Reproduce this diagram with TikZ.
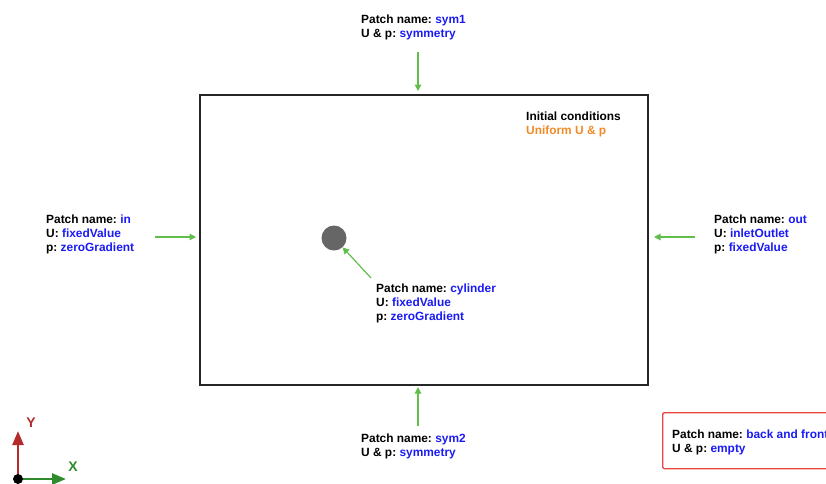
\documentclass[tikz,border=0pt]{standalone}
\usepackage{fontspec}
\setmainfont{Liberation Sans}
\usetikzlibrary{arrows.meta}
\definecolor{lblblue}{HTML}{1A1AF5}
\definecolor{lblorange}{HTML}{F08A24}
\definecolor{arrgreen}{HTML}{62BE4A}
\definecolor{boxred}{HTML}{E84545}
\definecolor{axred}{HTML}{B52A2A}
\definecolor{axgreen}{HTML}{2E8B2E}
\newcommand{\bl}[1]{\textcolor{lblblue}{#1}}
\frenchspacing
\begin{document}
\begin{tikzpicture}[x=1pt,y=-1pt,
  lbl/.style={anchor=north west,inner sep=0pt,align=left,font=\fontsize{11.9}{14}\selectfont\bfseries\frenchspacing},
  garrow/.style={draw=arrgreen,line width=1.2pt,-{Triangle[length=6.5pt,width=6.5pt]}},
  axarrow/.style={line width=2.6pt,-{Triangle[length=14pt,width=11pt]}}]
\useasboundingbox (0,0) rectangle (826,483);
\clip (0,0) rectangle (826,483);
% domain
\node[draw=black!85,line width=1.8pt,minimum width=448pt,minimum height=290pt,inner sep=0pt,anchor=north west] (dom) at (199,94) {};
% cylinder
\node[circle,fill=black!60,minimum size=25pt,inner sep=0pt] (cyl) at (334,238) {};
% labels
\node[lbl] (sym1) at (361,15) {Patch name: \bl{sym1}\\U \& p: \bl{symmetry}};
\node[lbl] (init) at (526,112) {Initial conditions\\\textcolor{lblorange}{Uniform U \& p}};
\node[lbl] (in) at (46,215) {Patch name: \bl{in}\\U: \bl{fixedValue}\\p: \bl{zeroGradient}};
\node[lbl] (out) at (714,215) {Patch name: \bl{out}\\U: \bl{inletOutlet}\\p: \bl{fixedValue}};
\node[lbl] (cyllbl) at (376,284) {Patch name: \bl{cylinder}\\U: \bl{fixedValue}\\p: \bl{zeroGradient}};
\node[lbl] (sym2) at (361,434) {Patch name: \bl{sym2}\\U \& p: \bl{symmetry}};
\node[draw=boxred,line width=1.4pt,rounded corners=1.5pt,anchor=north west,minimum width=180pt,minimum height=56pt,inner sep=0pt] (bfbox) at (662,412) {};
\node[lbl] (bf) at (672,430) {Patch name: \bl{back and front}\\U \& p: \bl{empty}};
% arrow coordinates
\coordinate (a1s) at (418,52); \coordinate (a1e) at (418,91);
\coordinate (a2s) at (155,237); \coordinate (a2e) at (196,237);
\coordinate (a3s) at (695,237); \coordinate (a3e) at (654,237);
\coordinate (a4s) at (418,426); \coordinate (a4e) at (418,387);
\coordinate (a5s) at (371,278);
\draw[garrow] (a1s) -- (a1e);
\draw[garrow] (a2s) -- (a2e);
\draw[garrow] (a3s) -- (a3e);
\draw[garrow] (a4s) -- (a4e);
\draw[garrow] (a5s) -- (cyl);
% axes
\coordinate (org) at (18,479);
\coordinate (yend) at (18,431);
\coordinate (xend) at (66,479);
\draw[axarrow,draw=axred,fill=axred] (org) -- (yend);
\draw[axarrow,draw=axgreen,fill=axgreen] (org) -- (xend);
\fill[black] (org) circle (5pt);
\node[text=axred,font=\fontsize{14}{14}\selectfont\bfseries,inner sep=0pt] (ylbl) at (31,423) {Y};
\node[text=axgreen,font=\fontsize{14}{14}\selectfont\bfseries,inner sep=0pt] (xlbl) at (73,467) {X};
\end{tikzpicture}
\end{document}
